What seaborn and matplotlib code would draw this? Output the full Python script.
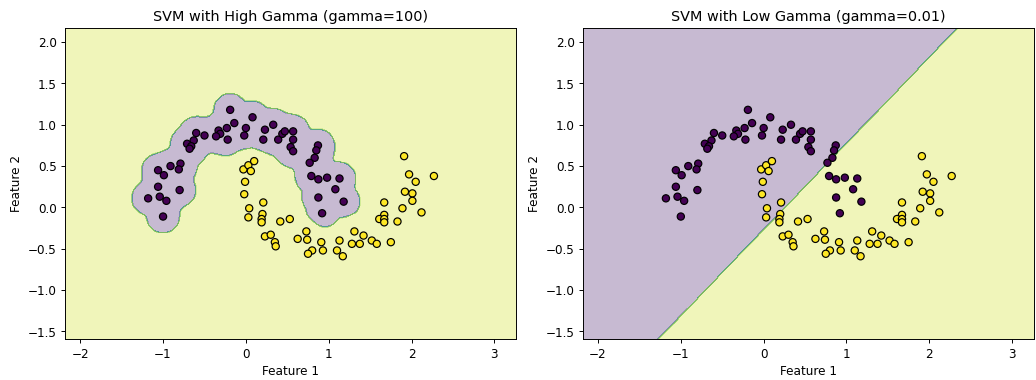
import numpy as np
import pandas as pd
import matplotlib.pyplot as plt
import seaborn as sns

# Points (two moons)
class0_x = [-0.19, 0.08, -0.14, -0.23, -0.33, -0.31, -0.36, -0.22, 0.00, -0.02,
            0.21, 0.23, 0.33, 0.39, 0.44, 0.47, 0.57, 0.57, 0.54, 0.57,
            -0.50, -0.60, -0.63, -0.71, -0.66, -0.68, -0.79, -0.81, -0.91, -1.06,
            -0.99, -1.06, -1.04, -0.96, -1.18, -1.00, -0.80, 0.87, 0.85, 0.83,
            0.77, 0.79, 0.875, 0.98, 1.13, 1.08, 0.875, 1.18, 0.92]
class0_y = [1.18, 1.09, 1.02, 0.96, 0.93, 0.89, 0.86, 0.82, 0.96, 0.87,
            0.82, 0.94, 1.00, 0.82, 0.89, 0.92, 0.92, 0.82, 0.73, 0.68,
            0.87, 0.90, 0.81, 0.77, 0.74, 0.71, 0.53, 0.46, 0.50, 0.45,
            0.39, 0.25, 0.13, 0.08, 0.11, -0.11, 0.21, 0.75, 0.69, 0.60,
            0.54, 0.38, 0.34, 0.36, 0.35, 0.22, 0.12, 0.07, -0.07]

class1_x = [-0.03, 0.03, 0.10, 0.06, -0.01, -0.02, 0.04, 0.03, 0.21, 0.20,
            0.19, 0.19, 0.23, 0.30, 0.35, 0.36, 0.415, 0.53, 0.625, 0.73,
            0.74, 0.80, 0.75, 0.91, 0.93, 1.13, 1.10, 1.17, 1.28, 1.31,
            1.375, 1.42, 1.52, 1.58, 1.75, 1.67, 1.67, 1.61, 1.67, 1.67,
            1.83, 1.89, 1.92, 2.01, 2.01, 1.97, 2.05, 1.91, 2.12, 2.27]
class1_y = [0.46, 0.51, 0.56, 0.44, 0.31, 0.16, -0.01, -0.12, 0.06, -0.08,
            -0.14, -0.18, -0.35, -0.33, -0.42, -0.47, -0.17, -0.14, -0.38, -0.29,
            -0.39, -0.52, -0.56, -0.42, -0.52, -0.40, -0.52, -0.59, -0.44, -0.29,
            -0.44, -0.34, -0.40, -0.44, -0.42, 0.06, -0.09, -0.14, -0.14, -0.18,
            -0.17, -0.01, 0.19, 0.17, 0.08, 0.40, 0.31, 0.62, -0.06, 0.38]

low_line_x = [-1.28, 2.35]
low_line_y = [-1.60, 2.18]

df = pd.DataFrame({
    'Feature 1': class0_x + class1_x,
    'Feature 2': class0_y + class1_y,
    'label': [0] * len(class0_x) + [1] * len(class1_x),
})
X = df[['Feature 1', 'Feature 2']].to_numpy()
sign = np.where(df['label'] == 1, 1.0, -1.0)

# mesh over the data range +/- 1
x_min, x_max = X[:, 0].min() - 1, X[:, 0].max() + 1
y_min, y_max = X[:, 1].min() - 1, X[:, 1].max() + 1
gx = np.arange(x_min, x_max, 0.01)
gy = np.arange(y_min, y_max, 0.01)
xx, yy = np.meshgrid(gx, gy)

# high gamma: rbf kernel sum around every point (all points act as support vectors)
# the rbf kernel splits into an x part and a y part, so it is one matrix product
gamma, bias = 100, 0.02
ex = np.exp(-gamma * (gx[None, :] - X[:, 0:1]) ** 2)   # (n, nx)
ey = np.exp(-gamma * (gy[None, :] - X[:, 1:2]) ** 2)   # (n, ny)
score = (ey * sign[:, None]).T @ ex + bias
Z_high = (score > 0).astype(int)

# low gamma: side of the straight boundary
x0, x1 = low_line_x
y0, y1 = low_line_y
cross = (xx - x0) * (y1 - y0) - (yy - y0) * (x1 - x0)
Z_low = (cross > 0).astype(int)

fig, axes = plt.subplots(1, 2, figsize=(12, 4.4))
panels = [(Z_high, 'SVM with High Gamma (gamma=100)'),
          (Z_low, 'SVM with Low Gamma (gamma=0.01)')]
for ax, (Z, title) in zip(axes, panels):
    ax.contourf(xx, yy, Z, alpha=0.3)
    sns.scatterplot(data=df, x='Feature 1', y='Feature 2', hue='label',
                    palette=['#440154', '#fde725'], edgecolor='k', linewidth=1,
                    s=36, legend=False, ax=ax)
    ax.set_title(title)
    ax.set_xlabel('Feature 1')
    ax.set_ylabel('Feature 2')

plt.subplots_adjust(left=0.063, right=0.997, bottom=0.108, top=0.926, wspace=0.149)
plt.savefig('out.png', dpi=86.4)
